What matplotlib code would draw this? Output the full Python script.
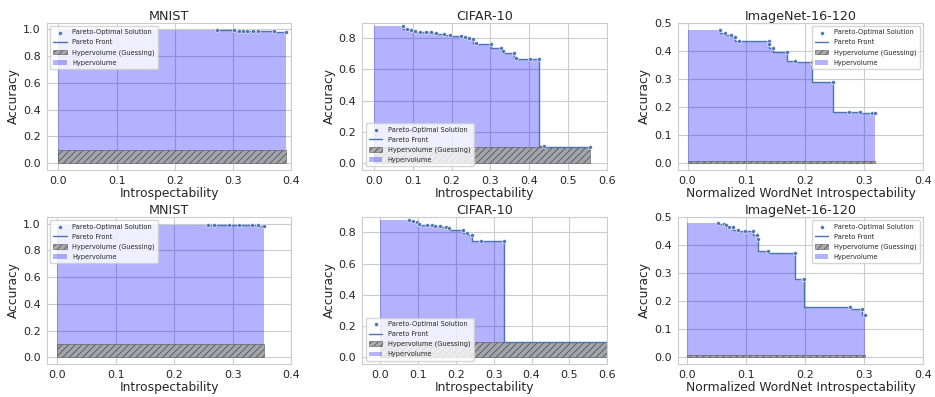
# pareto fronts and hypervolumes for three datasets (two runs)
import numpy as np
import matplotlib
matplotlib.use("Agg")
import matplotlib.pyplot as plt
from matplotlib.ticker import MultipleLocator
import seaborn as sns

# points
mnist1_x = [0.272, 0.302, 0.310, 0.316, 0.324, 0.334, 0.342, 0.370, 0.390]
mnist1_y = [0.993, 0.992, 0.991, 0.990, 0.989, 0.987, 0.986, 0.984, 0.982]
cifar1_x = [0.076, 0.086, 0.095, 0.105, 0.119, 0.134, 0.147, 0.160, 0.180, 0.197, 0.225, 0.235,
            0.245, 0.256, 0.263, 0.302, 0.328, 0.333, 0.360, 0.365, 0.402, 0.424, 0.437, 0.555]
cifar1_y = [0.876, 0.860, 0.850, 0.846, 0.843, 0.841, 0.840, 0.832, 0.828, 0.821, 0.815, 0.807,
            0.800, 0.795, 0.770, 0.765, 0.740, 0.716, 0.703, 0.676, 0.668, 0.664, 0.106, 0.102]
imnet1_x = [0.055, 0.064, 0.074, 0.081, 0.087, 0.138, 0.139, 0.146, 0.169, 0.183, 0.212, 0.248,
            0.275, 0.293, 0.313, 0.318]
imnet1_y = [0.475, 0.462, 0.456, 0.448, 0.436, 0.435, 0.425, 0.411, 0.396, 0.363, 0.360, 0.288,
            0.182, 0.182, 0.179, 0.178]

mnist2_x = [0.257, 0.267, 0.294, 0.311, 0.332, 0.342, 0.353]
mnist2_y = [0.993, 0.992, 0.990, 0.989, 0.987, 0.986, 0.985]
cifar2_x = [0.075, 0.088, 0.097, 0.103, 0.125, 0.137, 0.146, 0.159, 0.174, 0.181, 0.219, 0.229,
            0.243, 0.266, 0.328, 0.94]
cifar2_y = [0.879, 0.872, 0.866, 0.853, 0.849, 0.847, 0.842, 0.840, 0.836, 0.826, 0.819, 0.797,
            0.787, 0.746, 0.746, 0.100]
imnet2_x = [0.052, 0.062, 0.067, 0.071, 0.078, 0.086, 0.098, 0.112, 0.118, 0.120, 0.138, 0.183,
            0.196, 0.199, 0.277, 0.297, 0.302]
imnet2_y = [0.480, 0.476, 0.472, 0.464, 0.463, 0.455, 0.449, 0.449, 0.434, 0.423, 0.377, 0.372,
            0.280, 0.280, 0.179, 0.173, 0.150]

titles = ["MNIST", "CIFAR-10", "ImageNet-16-120"]
xlabels = ["Introspectability", "Introspectability", "Normalized WordNet Introspectability"]
guess = [0.1, 0.1, 1 / 120]
xlims = [(-0.02, 0.4), (-0.029, 0.6), (-0.016, 0.4)]
xlims2 = [(-0.018, 0.4), (-0.047, 0.6), (-0.015, 0.4)]
ylims = [(-0.05, 1.05), (-0.044, 0.9), (-0.024, 0.5)]
ysteps = [0.2, 0.2, 0.1]
legend_locs = ["upper left", "lower left", "upper right"]

rows = [[(mnist1_x, mnist1_y), (cifar1_x, cifar1_y), (imnet1_x, imnet1_y)],
        [(mnist2_x, mnist2_y), (cifar2_x, cifar2_y), (imnet2_x, imnet2_y)]]

sns.set_style("whitegrid")
plt.rcParams['font.family'] = ['DejaVu Sans']
plt.rcParams['hatch.linewidth'] = 0.6

fig, axes = plt.subplots(2, 3, figsize=(9.35, 3.97), dpi=100)
fig.subplots_adjust(left=0.050, right=0.987, bottom=0.083, top=0.943, wspace=0.29, hspace=0.32)

line_color = "#4c72b0"
for r in range(2):
    for c in range(3):
        ax = axes[r, c]
        xs = np.array(rows[r][c][0])
        ys = np.array(rows[r][c][1])
        # hypervolume area, starting from x = 0 at the height of the first solution
        hx = np.concatenate([[0.0], xs])
        hy = np.concatenate([[ys[0]], ys])
        ax.fill_between(hx, hy, step="pre", color="blue", alpha=0.3, linewidth=0, label="Hypervolume")
        ax.fill_between([0.0, xs[-1]], [guess[c], guess[c]], facecolor="#a3a3a3", alpha=0.9,
                        hatch="/////", edgecolor="#4a4a4a", linewidth=0.4,
                        label="Hypervolume (Guessing)")
        ax.step(xs, ys, where="pre", color=line_color, linewidth=1.0, label="Pareto Front")
        ax.scatter(xs, ys, s=8, color=line_color, edgecolor="white", linewidth=0.4,
                   zorder=3, label="Pareto-Optimal Solution")
        ax.set_title(titles[c], fontsize=9.2, pad=2)
        ax.set_xlabel(xlabels[c], fontsize=8.8, labelpad=0.5)
        ax.set_ylabel("Accuracy", fontsize=8.8, labelpad=2)
        ax.tick_params(labelsize=8.0, pad=1)
        ax.set_xlim(xlims[c] if r == 0 else xlims2[c])
        ax.set_ylim(ylims[c])
        ax.xaxis.set_major_locator(MultipleLocator(0.1))
        ax.yaxis.set_major_locator(MultipleLocator(ysteps[c]))
        h, l = ax.get_legend_handles_labels()
        order = [3, 2, 1, 0]
        ax.legend([h[i] for i in order], [l[i] for i in order], loc=legend_locs[c],
                  fontsize=4.8, handlelength=2.0, borderpad=0.5, labelspacing=0.6)

fig.savefig("out.png", dpi=100)
